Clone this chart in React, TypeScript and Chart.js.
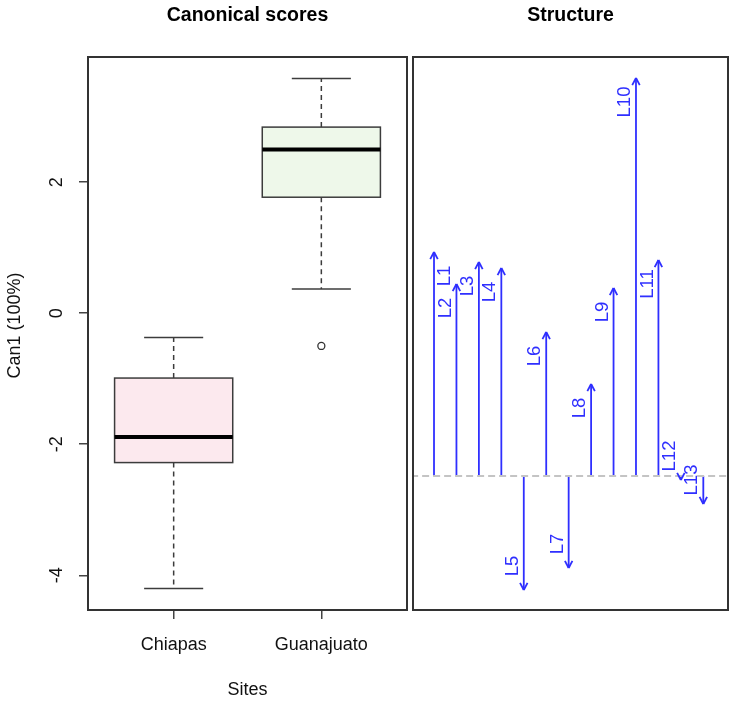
import React, { useEffect, useRef } from "react";
import { Chart, registerables } from "chart.js";
Chart.register(...registerables);

// ---- Canonical scores (boxplot) data ----
const sites = ["Chiapas", "Guanajuato"];
const whiskerLow = [-4.2, 0.37];
const quartile1 = [-2.28, 1.77];
const medians = [-1.89, 2.5];
const quartile3 = [-0.99, 2.84];
const whiskerHigh = [-0.37, 3.58];
const outlierSite = [2];
const outlierValue = [-0.5];
const scoreTicks = [-4, -2, 0, 2];
const scoreMin = -4.53;
const scoreMax = 3.91;

// ---- Structure data ----
const variables = ["L1", "L2", "L3", "L4", "L5", "L6", "L7", "L8", "L9", "L10", "L11", "L12", "L13"];
const structure = [0.56, 0.48, 0.535, 0.52, -0.285, 0.36, -0.23, 0.23, 0.47, 0.995, 0.54, -0.01, -0.07];
const labelSide = [1, -1, -1, -1, -1, -1, -1, -1, -1, -1, -1, -1, -1];
const structMin = -0.335;
const structMax = 1.0475;

const FONT = "'Liberation Sans', Arial, Helvetica, sans-serif";
const TEXT = "#111";
const boxFills = ["#fce9ee", "#eef8ea"];
const BLUE = "#2f2fff";

function rotText(ctx: CanvasRenderingContext2D, text: string, x: number, y: number, font: string, color: string) {
  ctx.save();
  ctx.translate(x, y);
  ctx.rotate(-Math.PI / 2);
  ctx.font = font;
  ctx.fillStyle = color;
  ctx.textAlign = "center";
  ctx.textBaseline = "middle";
  ctx.fillText(text, 0, 0);
  ctx.restore();
}

function seg(ctx: CanvasRenderingContext2D, x1: number, y1: number, x2: number, y2: number) {
  ctx.beginPath();
  ctx.moveTo(x1, y1);
  ctx.lineTo(x2, y2);
  ctx.stroke();
}

const boxPlugin = {
  id: "boxes",
  beforeDatasetsDraw(chart: any) {
    const { ctx } = chart;
    const x = chart.scales.x;
    const y = chart.scales.y;
    sites.forEach((_, i) => {
      const pos = i + 1;
      const cx = x.getPixelForValue(pos);
      const hw = x.getPixelForValue(pos + 0.4) - cx;
      const sw = hw / 2;
      const yq1 = y.getPixelForValue(quartile1[i]);
      const yq3 = y.getPixelForValue(quartile3[i]);
      const ylo = y.getPixelForValue(whiskerLow[i]);
      const yhi = y.getPixelForValue(whiskerHigh[i]);
      const ymed = y.getPixelForValue(medians[i]);
      ctx.save();
      ctx.strokeStyle = "#3c3c3c";
      ctx.lineWidth = 1.5;
      ctx.setLineDash([5, 4]);
      seg(ctx, cx, yq3, cx, yhi);
      seg(ctx, cx, yq1, cx, ylo);
      ctx.setLineDash([]);
      seg(ctx, cx - sw, yhi, cx + sw, yhi);
      seg(ctx, cx - sw, ylo, cx + sw, ylo);
      ctx.fillStyle = boxFills[i];
      ctx.fillRect(cx - hw, yq3, 2 * hw, yq1 - yq3);
      ctx.strokeRect(cx - hw, yq3, 2 * hw, yq1 - yq3);
      ctx.strokeStyle = "#000";
      ctx.lineWidth = 4;
      seg(ctx, cx - hw, ymed, cx + hw, ymed);
      ctx.restore();
    });
  },
  afterDraw(chart: any) {
    const { ctx, chartArea } = chart;
    const x = chart.scales.x;
    const y = chart.scales.y;
    ctx.save();
    ctx.strokeStyle = "#333";
    ctx.lineWidth = 2;
    ctx.strokeRect(chartArea.left, chartArea.top, chartArea.right - chartArea.left, chartArea.bottom - chartArea.top);
    const cxMid = (chartArea.left + chartArea.right) / 2;
    ctx.font = `bold 19.5px ${FONT}`;
    ctx.fillStyle = "#000";
    ctx.textAlign = "center";
    ctx.textBaseline = "middle";
    ctx.fillText("Canonical scores", cxMid, 16);
    scoreTicks.forEach((v) => {
      rotText(ctx, String(v), 57, y.getPixelForValue(v), `18px ${FONT}`, TEXT);
    });
    rotText(ctx, "Can1 (100%)", 15, (chartArea.top + chartArea.bottom) / 2 - 8, `18px ${FONT}`, TEXT);
    ctx.font = `18px ${FONT}`;
    ctx.fillStyle = TEXT;
    sites.forEach((s, i) => {
      ctx.fillText(s, x.getPixelForValue(i + 1), 645);
    });
    ctx.fillText("Sites", cxMid, 690);
    ctx.restore();
  },
};

const arrowPlugin = {
  id: "arrows",
  afterDatasetsDraw(chart: any) {
    const { ctx } = chart;
    const x = chart.scales.x;
    const y = chart.scales.y;
    ctx.save();
    variables.forEach((name, i) => {
      const px = x.getPixelForValue(i + 1);
      const py = y.getPixelForValue(structure[i]);
      const dir = structure[i] >= 0 ? -1 : 1; // pixel direction of arrow
      const len = 8;
      const ang = (28 * Math.PI) / 180;
      ctx.strokeStyle = BLUE;
      ctx.lineWidth = 1.8;
      const by = -dir * len;
      seg(ctx, px, py, px - by * Math.sin(ang), py + by * Math.cos(ang));
      seg(ctx, px, py, px + by * Math.sin(ang), py + by * Math.cos(ang));
      const ly = py - dir * 24;
      rotText(ctx, name, px + labelSide[i] * 11, ly, `18.5px ${FONT}`, BLUE);
    });
    ctx.restore();
  },
  afterDraw(chart: any) {
    const { ctx, chartArea } = chart;
    ctx.save();
    ctx.strokeStyle = "#333";
    ctx.lineWidth = 2;
    ctx.strokeRect(chartArea.left, chartArea.top, chartArea.right - chartArea.left, chartArea.bottom - chartArea.top);
    ctx.font = `bold 19.5px ${FONT}`;
    ctx.fillStyle = "#000";
    ctx.textAlign = "center";
    ctx.textBaseline = "middle";
    ctx.fillText("Structure", (chartArea.left + chartArea.right) / 2, 16);
    ctx.restore();
  },
};

export default function App() {
  const leftRef = useRef<HTMLCanvasElement>(null);
  const rightRef = useRef<HTMLCanvasElement>(null);

  useEffect(() => {
    const left = new Chart(leftRef.current as HTMLCanvasElement, {
      type: "scatter",
      data: {
        datasets: [
          {
            data: outlierSite.map((s, i) => ({ x: s, y: outlierValue[i] })),
            pointRadius: 3.5,
            pointBorderColor: "#333",
            pointBackgroundColor: "rgba(0,0,0,0)",
            pointBorderWidth: 1.3,
          },
        ],
      },
      options: {
        animation: false,
        responsive: false,
        events: [],
        layout: { autoPadding: false, padding: { left: 88, right: 3, top: 57, bottom: 92 } },
        plugins: { legend: { display: false }, tooltip: { enabled: false }, title: { display: false } },
        scales: {
          x: {
            type: "linear",
            min: 0.42,
            max: 2.58,
            afterBuildTicks: (s: any) => {
              s.ticks = sites.map((_, i) => ({ value: i + 1 }));
            },
            afterFit: (s: any) => {
              s.height = 0;
              s.paddingLeft = 0;
              s.paddingRight = 0;
              s.paddingTop = 0;
              s.paddingBottom = 0;
            },
            ticks: { display: false },
            grid: { drawOnChartArea: false, drawTicks: true, tickLength: 9, color: "#444", lineWidth: 1.5 },
            border: { display: false },
          },
          y: {
            type: "linear",
            min: scoreMin,
            max: scoreMax,
            afterBuildTicks: (s: any) => {
              s.ticks = scoreTicks.map((v) => ({ value: v }));
            },
            afterFit: (s: any) => {
              s.width = 0;
              s.paddingLeft = 0;
              s.paddingRight = 0;
              s.paddingTop = 0;
              s.paddingBottom = 0;
            },
            ticks: { display: false },
            grid: { drawOnChartArea: false, drawTicks: true, tickLength: 9, color: "#444", lineWidth: 1.5 },
            border: { display: false },
          },
        },
      },
      plugins: [boxPlugin],
    } as any);

    const right = new Chart(rightRef.current as HTMLCanvasElement, {
      type: "line",
      data: {
        datasets: [
          {
            data: [
              { x: -1, y: 0 },
              { x: 16, y: 0 },
            ],
            borderColor: "#c4c4c4",
            borderDash: [7, 4],
            borderWidth: 1.8,
            pointRadius: 0,
          },
          ...variables.map((_, i) => ({
            data: [
              { x: i + 1, y: 0 },
              { x: i + 1, y: structure[i] },
            ],
            borderColor: BLUE,
            borderWidth: 1.8,
            pointRadius: 0,
          })),
        ],
      },
      options: {
        animation: false,
        responsive: false,
        events: [],
        layout: { autoPadding: false, padding: { left: 3, right: 5, top: 57, bottom: 92 } },
        plugins: { legend: { display: false }, tooltip: { enabled: false }, title: { display: false } },
        scales: {
          x: { type: "linear", min: 0.064, max: 14.1, display: false },
          y: { type: "linear", min: structMin, max: structMax, display: false },
        },
      },
      plugins: [arrowPlugin],
    } as any);

    return () => {
      left.destroy();
      right.destroy();
    };
  }, []);

  return (
    <div style={{ position: "fixed", left: 0, top: 0, width: 733, height: 702, background: "#fff" }}>
      <canvas ref={leftRef} width={410} height={702} style={{ position: "absolute", left: 0, top: 0, width: 410, height: 702 }} />
      <canvas ref={rightRef} width={323} height={702} style={{ position: "absolute", left: 410, top: 0, width: 323, height: 702 }} />
    </div>
  );
}
